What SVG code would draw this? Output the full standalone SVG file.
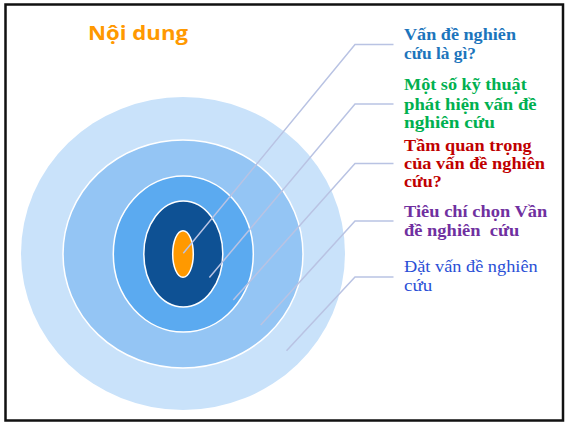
<svg xmlns="http://www.w3.org/2000/svg" width="566" height="423" viewBox="0 0 566 423">
<style>
.ring{stroke:#ffffff;stroke-width:1.5}
.lbl{font-family:"Liberation Serif","DejaVu Serif",serif;font-size:16.5px;font-weight:bold}
.lead{fill:none;stroke:#B9C3E3;stroke-width:1.5}
</style>
<rect x="0" y="0" width="566" height="423" fill="#ffffff"/>
<rect x="5.5" y="4.5" width="557.5" height="416" fill="#ffffff" stroke="#111111" stroke-width="2.5"/>
<g id="title">
<text x="88" y="40" font-family="'Open Sans','Liberation Sans',sans-serif" font-size="19" font-weight="bold" fill="#FF9900" textLength="100" lengthAdjust="spacingAndGlyphs">Nội dung</text>
</g>
<g id="ring5"><ellipse cx="183" cy="253.5" rx="162" ry="156.5" fill="#C9E2FA"/></g>
<g id="ring4"><ellipse class="ring" cx="183" cy="254" rx="120" ry="114" fill="#94C5F4"/></g>
<g id="ring3"><ellipse class="ring" cx="183.3" cy="254" rx="70" ry="78" fill="#5BAAF0"/></g>
<g id="ring2"><ellipse class="ring" cx="183.3" cy="254" rx="39.5" ry="53" fill="#0E5194"/></g>
<g id="ring1"><ellipse class="ring" cx="183" cy="254" rx="10.3" ry="23.3" fill="#FF9900"/></g>
<g id="connectors">
<polyline class="lead" points="183.3,253.3 355,44.5 393.5,44.5"/>
<polyline class="lead" points="209.4,277.5 355,104 393.5,104"/>
<polyline class="lead" points="233.3,300 355,163.5 393.5,163.5"/>
<polyline class="lead" points="260.7,325 355,221 393.5,221"/>
<polyline class="lead" points="286.5,350.7 355,277 393.5,277"/>
</g>
<g id="label1" class="lbl" fill="#1C75BC">
<text x="404" y="40" textLength="112" lengthAdjust="spacingAndGlyphs">Vấn đề nghiên</text>
<text x="404" y="59.3" textLength="72" lengthAdjust="spacingAndGlyphs">cứu là gì?</text>
</g>
<g id="label2" class="lbl" fill="#00B050">
<text x="404" y="90" textLength="122.7" lengthAdjust="spacingAndGlyphs">Một số kỹ thuật</text>
<text x="404" y="109.5" textLength="132.7" lengthAdjust="spacingAndGlyphs">phát hiện vấn đề</text>
<text x="404" y="128.3" textLength="91" lengthAdjust="spacingAndGlyphs">nghiên cứu</text>
</g>
<g id="label3" class="lbl" fill="#C00000">
<text x="404" y="150.5" textLength="127.7" lengthAdjust="spacingAndGlyphs">Tầm quan trọng</text>
<text x="404" y="168.5" textLength="141" lengthAdjust="spacingAndGlyphs">của vấn đề nghiên</text>
<text x="404" y="187.3" textLength="37.7" lengthAdjust="spacingAndGlyphs">cứu?</text>
</g>
<g id="label4" class="lbl" fill="#7030A0">
<text x="404" y="217.3" textLength="143.3" lengthAdjust="spacingAndGlyphs">Tiêu chí chọn Vần</text>
<text x="404" y="236" textLength="115.3" lengthAdjust="spacingAndGlyphs" xml:space="preserve">đề nghiên  cứu</text>
</g>
<g id="label5" class="lbl" fill="#2A4FD6" font-weight="normal" style="font-weight:normal">
<text x="404" y="271.7" textLength="133.7" lengthAdjust="spacingAndGlyphs">Đặt vấn đề nghiên</text>
<text x="404" y="290.7" textLength="28.3" lengthAdjust="spacingAndGlyphs">cứu</text>
</g>
</svg>
